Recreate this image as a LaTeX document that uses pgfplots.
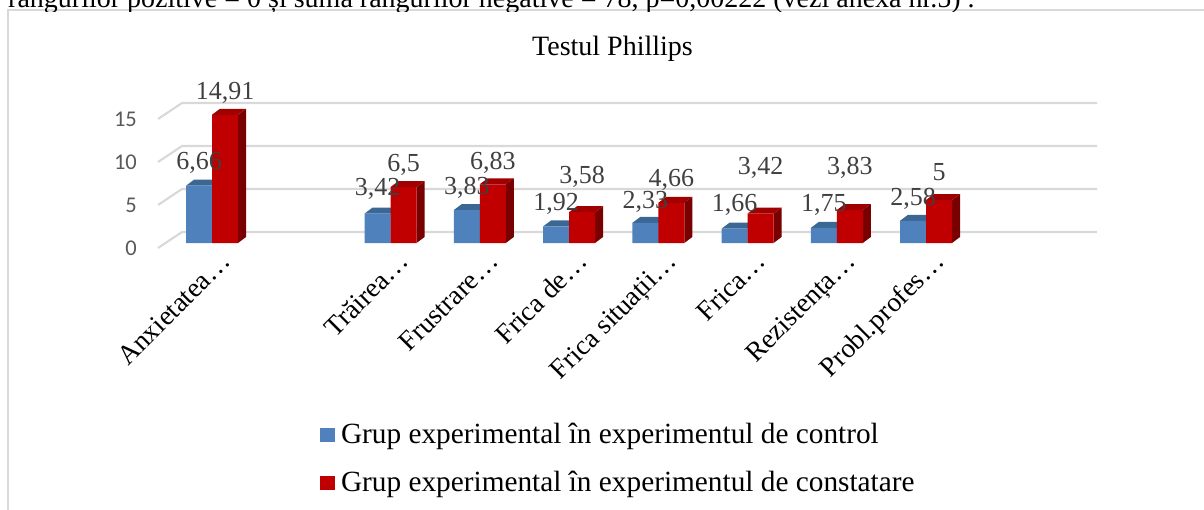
\documentclass[border=0pt]{standalone}
\usepackage{pgfplots}
\pgfplotsset{compat=1.18}
\usepackage{pgfplotstable}
\usepackage{fontspec}
\setmainfont{Liberation Serif}
\newfontfamily\tickfont{Carlito}

\definecolor{bluefront}{HTML}{4F81BD}
\definecolor{bluetop}{HTML}{3B6795}
\definecolor{blueside}{HTML}{34598A}
\definecolor{redfront}{HTML}{C00000}
\definecolor{redtop}{HTML}{A00000}
\definecolor{redside}{HTML}{780000}
\definecolor{gridc}{HTML}{D9D9D9}
\definecolor{tickc}{HTML}{595959}
\definecolor{labc}{HTML}{404040}

% x = category position (1 is an empty category), v = value, dy = label baseline offset (pt)
\pgfplotstableread{
x v dy
0 6.66 15.9
2 3.42 17.8
3 3.83 15.2
4 1.92 16.2
5 2.33 14.7
6 1.66 17.2
7 1.75 16.7
8 2.58 15.2
}\controltab
\pgfplotstableread{
x v dy
0 14.91 15.2
2 6.5 15.7
3 6.83 15.2
4 3.58 29.2
5 4.66 16.7
6 3.42 38.8
7 3.83 35.2
8 5 19.2
}\constattab

% 3D top and side faces of the bars, computed from the table values
\newcommand\drawfaces[4]{%
  \pgfplotstablegetrowsof{#1}\let\nrows\pgfplotsretval
  \pgfmathtruncatemacro\lastrow{\nrows-1}%
  \pgfplotsforeachungrouped \r in {0,...,\lastrow}{%
    \pgfplotstablegetelem{\r}{x}\of{#1}\let\cx\pgfplotsretval
    \pgfplotstablegetelem{\r}{v}\of{#1}\let\cv\pgfplotsretval
    \pgfmathsetmacro\xa{\cx+#2}%
    \pgfmathsetmacro\xb{\xa+0.29132}%
    \pgfmathsetmacro\xc{\xa+0.08964}%
    \pgfmathsetmacro\xd{\xb+0.08964}%
    \pgfmathsetmacro\vt{\cv+0.6977}%
    \edef\doit{%
      \noexpand\addplot[forget plot, fill=#4, draw=none] coordinates {(\xb,0) (\xd,0.6977) (\xd,\vt) (\xb,\cv)};
      \noexpand\addplot[forget plot, fill=#3, draw=none] coordinates {(\xa,\cv) (\xc,\vt) (\xd,\vt) (\xb,\cv)};
    }\doit
  }%
}

\newcommand\catfont{\fontsize{27.5}{33}\selectfont}

\begin{document}
\begin{tikzpicture}
\useasboundingbox (0pt,0pt) rectangle (1204pt,509pt);
% chart frame
\draw[gridc, line width=1.5pt] (8pt,-20pt) -- (8pt,499pt) -- (1230pt,499pt);
% cut-off text line above the chart
\begin{scope}
\clip (0pt,497.5pt) rectangle (1204pt,509pt);
\node[anchor=base west, inner sep=0pt, font=\fontsize{28}{34}\selectfont] at (8pt,501.5pt)
  {rangurilor pozitive = 0 și suma rangurilor negative = 78, p=0,00222 (vezi anexa nr.5) .};
\end{scope}

\begin{axis}[
  anchor=south west, at={(149.525pt,257.4pt)},
  x=89.25pt, y=8.6pt,
  xmin=-0.7, xmax=9.75, ymin=-1, ymax=16.5,
  clip=false,
  axis line style={draw=none},
  tick style={draw=none},
  major tick length=0pt,
  /pgf/number format/assume math mode=true,
  ytick={0,5,10,15},
  yticklabel style={font=\tickfont\fontsize{22.5}{26}\selectfont, text=tickc,
    anchor=east, inner sep=0pt, xshift=-12.5pt, yshift=-5pt},
  xtick={0,2,3,4,5,6,7,8},
  xticklabels={Anxietatea…, Trăirea…, Frustrare…, Frica de…, Frica situații…, Frica…, Rezistența…, Probl.profes…},
  xticklabel style={font=\catfont, text=black, xshift=20pt, yshift=-11.4pt,
    rotate=45, anchor=base east, inner sep=0pt},
  title={Testul Phillips},
  title style={at={(0.4964,1.26)}, anchor=base, font=\fontsize{28}{34}\selectfont, inner sep=0pt},
  legend style={at={(0.18278,-1.1389)}, anchor=north west, draw=none, fill=none,
    inner sep=0pt, outer sep=0pt, font=\fontsize{29.3}{35}\selectfont,
    row sep=22pt,
    nodes={inner sep=0pt, text height=20pt, text depth=6pt},
    /tikz/every odd column/.append style={column sep=6pt}},
  legend cell align=left,
]
% grid lines (back wall) with slanted floor edges
\draw[gridc, line width=2.2pt] (axis cs:-0.605,-0.581) -- (axis cs:-0.336,1.279) -- (axis cs:9.916,1.279);
\draw[gridc, line width=2.2pt] (axis cs:-0.605,4.419) -- (axis cs:-0.336,6.279) -- (axis cs:9.916,6.279);
\draw[gridc, line width=2.2pt] (axis cs:-0.605,9.419) -- (axis cs:-0.336,11.279) -- (axis cs:9.916,11.279);
\draw[gridc, line width=2.2pt] (axis cs:-0.605,14.419) -- (axis cs:-0.336,16.279) -- (axis cs:9.916,16.279);

% control group
\drawfaces{\controltab}{-0.29132}{bluetop}{blueside}
\addplot[ybar, bar width=26pt, bar shift=-13pt, fill=bluefront, draw=none,
  legend image code/.code={\fill[bluefront] (0pt,-6pt) rectangle (15pt,8pt);}]
  table[x=x, y=v]{\controltab};
\addlegendentry{Grup experimental în experimentul de control}

% constatare group
\drawfaces{\constattab}{0}{redtop}{redside}
\addplot[ybar, bar width=26pt, bar shift=13pt, fill=redfront, draw=none,
  legend image code/.code={\fill[redfront] (0pt,-6pt) rectangle (15pt,8pt);}]
  table[x=x, y=v]{\constattab};
\addlegendentry{Grup experimental în experimentul de constatare}

% data labels
\addplot[forget plot, draw=none, mark=none, only marks,
  visualization depends on={\thisrow{dy}\as\labdy},
  nodes near coords={\pgfmathprintnumber[use comma, precision=2, assume math mode=true]{\pgfplotspointmeta}},
  every node near coord/.append style={anchor=base, yshift=\labdy pt, inner sep=0pt,
    font=\fontsize{26}{30}\selectfont, text=labc}]
  table[x expr=\thisrow{x}-0.14566, y=v]{\controltab};
\addplot[forget plot, draw=none, mark=none, only marks,
  visualization depends on={\thisrow{dy}\as\labdy},
  nodes near coords={\pgfmathprintnumber[use comma, precision=2, assume math mode=true]{\pgfplotspointmeta}},
  every node near coord/.append style={anchor=base, yshift=\labdy pt, inner sep=0pt,
    font=\fontsize{26}{30}\selectfont, text=labc}]
  table[x expr=\thisrow{x}+0.14566, y=v]{\constattab};
\end{axis}
\end{tikzpicture}
\end{document}
